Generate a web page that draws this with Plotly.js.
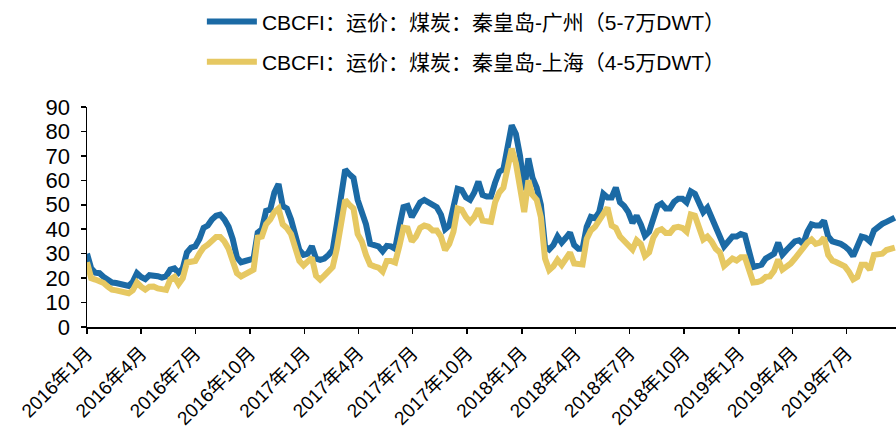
<!DOCTYPE html>
<html>
<head>
<meta charset="utf-8">
<script src="https://cdn.plot.ly/plotly-3.0.1.min.js"></script>
<style>html,body{margin:0;padding:0;background:#fff;}#chart{width:896px;height:434px;}</style>
</head>
<body>
<div id="chart"></div>
<script>
// Weekly observations starting 2016-01-01
const startDate = '2016-01-01';
const seriesNames = ['CBCFI：运价：煤炭：秦皇岛-广州（5-7万DWT）', 'CBCFI：运价：煤炭：秦皇岛-上海（4-5万DWT）'];
const guangzhou = [
  30,24,22.2,22,20.5,19,18.2,18,17.7,17,
  16.8,18.5,22,20.5,19.6,21.2,21.3,20.8,20.2,20.8,
  23.5,24,22.2,24,30.5,32.5,33,36,40.6,41.5,
  44,45.5,46,44,41,36,28.5,26.5,27,27.3,
  28,38.6,40,47.5,48,55,58.5,49.5,48.5,44,
  38,31.5,29.5,30,33,28,27.5,28,29.5,31.5,
  42,55,64.4,62.5,61,52,46.8,42,34,33.2,
  33,31,33.2,33,32,41,49,49.5,45,48,
  51,52,51,50,49,46,40,41.5,48,56.5,
  56,53,52,55,59.5,54,53.4,53.4,59,63.5,
  64.5,75,82.5,79,70,56,69,61,57,50,
  33,31.7,33.5,37,34.5,36.5,38.6,33.5,32,32,
  41,45,44.5,47,54.5,53,53,57,51,49.5,
  47,42.6,45.5,42,37.3,39,45,49.5,50.5,48.5,
  48.5,51.2,52.5,52.5,51,55.5,54.5,51,47,48.8,
  45,41,37.2,33,35,37,37,38,37.5,32,
  24.5,25,25.5,28,29,30,34.5,29.6,31.5,33.2,
  35,35.5,34,39,42,41.5,41.5,43.5,37,35,
  34.6,34,33,31.5,29,32.5,37,36.5,35,39.5,
  41,42.2,43,44,44.7
];
const shanghai = [
  26.5,20,19.4,18.8,18,16.5,15.3,15,14.8,14.2,
  13.8,15,18.2,16.5,15.3,16.5,16.6,15.8,15.2,15.2,
  19.5,20.5,17.6,20,26.4,27,27,30,32.5,33.7,
  35.5,36.8,36.8,35,32,27,22,20.7,21.5,22.5,
  23.5,36.6,37,42,44,47,48.5,42,40.5,38,
  32,27,25.2,26.5,28.4,21,19.4,21,23,24.5,
  32,42,52,50,48.5,38,35,29.5,25.5,24.8,
  24.3,22.7,27,27,26.4,33,40.6,40.3,35,37,
  40.5,41.5,41,39.5,39.5,37,31.5,34,39,48.5,
  48,45,43,45,48.5,43.5,43,43,51,55,
  57,64,73,67,57,47,60,54,52,45,
  28,23.3,24.8,27.5,25.4,28,30.4,26,25.5,25.6,
  36,39.5,41,43.5,46.5,48.8,41.5,40.5,37,35.5,
  34,31.7,35.5,34,29,30.5,36.5,39.3,40,38.5,
  38.5,40.6,41,40.5,39,46,45.5,40.5,35.8,37,
  35,32,30.5,25,26.5,28,27.2,28.5,28.5,23,
  18.2,18.4,19,20.5,20.7,23,27.6,23.5,24.5,26,
  28,30.5,33,34.5,35.8,34,34.5,36.5,29.5,27.2,
  26.5,25.8,24.8,22.5,19.5,20.5,25.5,25.5,23.5,29.5,
  30,30,31.5,32,32.5
];
const tickDates = ['2016-01-01','2016-04-01','2016-07-01','2016-10-01','2017-01-01','2017-04-01','2017-07-01','2017-10-01','2018-01-01','2018-04-01','2018-07-01','2018-10-01','2019-01-01','2019-04-01','2019-07-01'];
const tickLabels = ['2016年1月','2016年4月','2016年7月','2016年10月','2017年1月','2017年4月','2017年7月','2017年10月','2018年1月','2018年4月','2018年7月','2018年10月','2019年1月','2019年4月','2019年7月'];

// weekly date axis
const dates = [];
{
  const d0 = new Date(startDate + 'T00:00:00Z');
  for (let i = 0; i < guangzhou.length; i++) {
    const d = new Date(d0.getTime() + i * 7 * 86400000);
    dates.push(d.toISOString().slice(0, 10));
  }
}

const FONT = 'Liberation Sans, Arial, "Noto Sans CJK SC", sans-serif';
const traces = [
  {x: dates, y: guangzhou, name: seriesNames[0], type: 'scatter', mode: 'lines',
   line: {color: '#1B6AA5', width: 6}, legendgroup: 'a'},
  {x: dates, y: shanghai, name: seriesNames[1], type: 'scatter', mode: 'lines',
   line: {color: '#E6C862', width: 6}, legendgroup: 'b'}
];
const layout = {
  width: 896, height: 434,
  margin: {l: 87, r: 0, t: 107, b: 107, pad: 0},
  paper_bgcolor: '#fff', plot_bgcolor: '#fff',
  font: {family: FONT, color: '#000', size: 20},
  showlegend: true,
  legend: {x: 0.142, xanchor: 'left', y: 1.48, yanchor: 'top', orientation: 'v',
           font: {size: 21, family: FONT, color: '#000'}, tracegroupgap: 10,
           bgcolor: 'rgba(0,0,0,0)', itemwidth: 50},
  xaxis: {type: 'date', range: ['2016-01-01', '2019-09-22'],
          tickmode: 'array', tickvals: tickDates, ticktext: tickLabels,
          tickangle: -45, ticks: 'outside', ticklen: 5, tickwidth: 1.5, tickcolor: '#000',
          showline: true, linecolor: '#000', linewidth: 1.5, showgrid: false, zeroline: false,
          tickfont: {size: 19, family: FONT, color: '#000'}, ticklabelstandoff: 1, fixedrange: true},
  yaxis: {range: [0, 90], tickmode: 'linear', tick0: 0, dtick: 10,
          ticks: 'outside', ticklen: 5, tickwidth: 1.5, tickcolor: '#000',
          showline: true, linecolor: '#000', linewidth: 1.5, showgrid: false, zeroline: false,
          tickfont: {size: 22, family: FONT, color: '#000'}, ticklabelstandoff: 6, fixedrange: true}
};
Plotly.newPlot('chart', traces, layout, {displayModeBar: false, staticPlot: true});
</script>
</body>
</html>
